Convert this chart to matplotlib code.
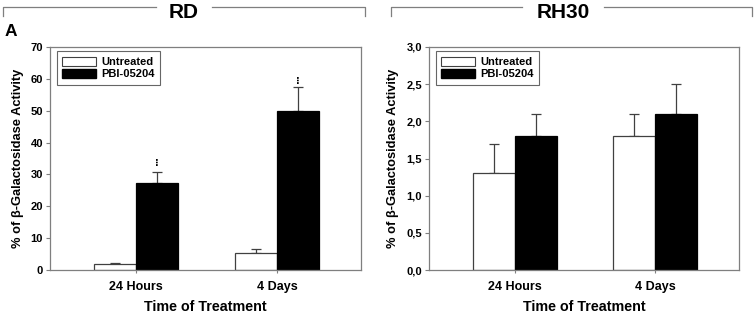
import matplotlib
matplotlib.use("Agg")
import matplotlib.pyplot as plt
import numpy as np
from matplotlib.patches import Patch
from matplotlib.lines import Line2D

plt.rcParams['font.family'] = ['Liberation Sans', 'DejaVu Sans']

categories = ["24 Hours", "4 Days"]
series = ["Untreated", "PBI-05204"]
rd_untreated = [2.0, 5.2]
rd_untreated_err = [0.3, 1.4]
rd_pbi = [27.2, 50.0]
rd_pbi_err = [3.7, 7.3]
rh_untreated = [1.3, 1.8]
rh_untreated_err = [0.4, 0.3]
rh_pbi = [1.8, 2.1]
rh_pbi_err = [0.3, 0.4]
rd_ticks = [0, 10, 20, 30, 40, 50, 60, 70]
rh_ticks = [0.0, 0.5, 1.0, 1.5, 2.0, 2.5, 3.0]
stars_rd = [33.6, 59.2]

fig = plt.figure(figsize=(7.54, 3.16), dpi=100)
W, H = 754, 316

def add_ax(x0, x1, y0, y1):
    return fig.add_axes([x0 / W, 1 - y1 / H, (x1 - x0) / W, (y1 - y0) / H])

ax1 = add_ax(50, 361, 47, 270)
ax2 = add_ax(429, 739, 47, 270)

spine_c = '#7f7f7f'
bw = 0.298

def draw(ax, u, ue, p, pe, ticks, fmt):
    x = np.arange(1, len(categories) + 1)
    ax.bar(x - bw / 2, u, bw, color='white', edgecolor='#404040', linewidth=0.9, zorder=2)
    ax.bar(x + bw / 2, p, bw, color='black', edgecolor='black', linewidth=0.9, zorder=2)
    ax.errorbar(x - bw / 2, u, yerr=[np.zeros(len(u)), ue], fmt='none', ecolor='#404040',
                elinewidth=0.9, capsize=3.5, capthick=0.9, zorder=1)
    ax.errorbar(x + bw / 2, p, yerr=[np.zeros(len(p)), pe], fmt='none', ecolor='#404040',
                elinewidth=0.9, capsize=3.5, capthick=0.9, zorder=1)
    ax.set_xlim(0.39, 2.596)
    ax.set_ylim(ticks[0], ticks[-1])
    ax.set_yticks(ticks)
    ax.set_yticklabels([fmt(t) for t in ticks], fontsize=8, fontweight='bold')
    ax.set_xticks(x)
    ax.set_xticklabels(categories, fontsize=9, fontweight='bold')
    ax.tick_params(axis='y', direction='out', length=3, width=0.8, color=spine_c, pad=2)
    ax.tick_params(axis='x', direction='out', length=2, width=0.8, color=spine_c, pad=6)
    for s in ax.spines.values():
        s.set_color(spine_c)
        s.set_linewidth(0.9)
    ax.set_xlabel("Time of Treatment", fontsize=10.3, fontweight='bold', labelpad=5)
    ax.set_ylabel("% of β-Galactosidase Activity", fontsize=9.3, fontweight='bold', labelpad=5)
    handles = [Patch(facecolor='white', edgecolor='#404040', linewidth=0.8),
               Patch(facecolor='black', edgecolor='black')]
    leg = ax.legend(handles, series, loc='upper left', bbox_to_anchor=(0.015, 0.99),
                    prop={'weight': 'bold', 'size': 8}, frameon=True, fancybox=False,
                    handlelength=3.0, handleheight=0.8, handletextpad=0.5, borderpad=0.5,
                    labelspacing=0.2, borderaxespad=0.2)
    leg.get_frame().set_edgecolor('#404040')
    leg.get_frame().set_linewidth(0.8)

draw(ax1, rd_untreated, rd_untreated_err, rd_pbi, rd_pbi_err, rd_ticks, lambda t: f"{t:d}")
draw(ax2, rh_untreated, rh_untreated_err, rh_pbi, rh_pbi_err, rh_ticks,
     lambda t: f"{t:.1f}".replace('.', ','))

for xi, s in zip(np.arange(1, 3) + bw / 2, stars_rd):
    ax1.text(xi, s, "⋮", ha='center', va='center', fontsize=7, color='black',
             fontweight='bold', family=['DejaVu Sans'])

# Brackets and headers
def bracket(x0, x1, xc, label, gap):
    yl = 1 - 7 / H
    yb = 1 - 16 / H
    c = '#7f7f7f'
    fig.add_artist(Line2D([x0 / W, x0 / W, (xc - gap) / W], [yb, yl, yl], color=c, lw=0.9))
    fig.add_artist(Line2D([(xc + gap) / W, x1 / W, x1 / W], [yl, yl, yb], color=c, lw=0.9))
    fig.text(xc / W, 1 - 12 / H, label, ha='center', va='center', fontsize=15, fontweight='bold')

bracket(3, 365, 184, "RD", 28)
bracket(391, 752, 563, "RH30", 41)
fig.text(5 / W, 1 - 32 / H, "A", ha='left', va='center', fontsize=12.5, fontweight='bold')

fig.savefig("out.png", dpi=100)
